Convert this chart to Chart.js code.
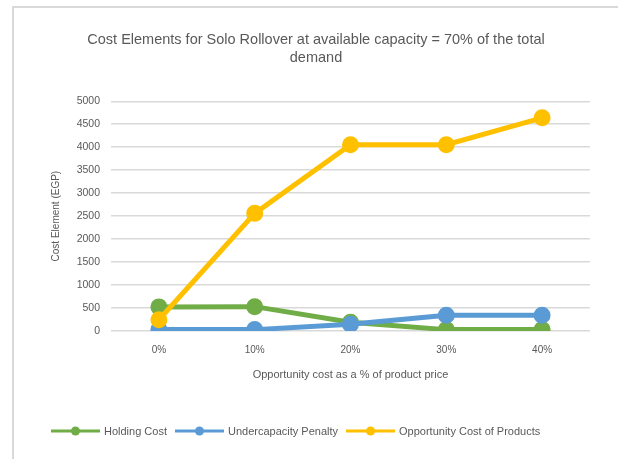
<!DOCTYPE html>
<html lang="en">
<head>
  <meta charset="UTF-8">
  <title>Cost Elements for Solo Rollover</title>
  <script src="https://cdn.jsdelivr.net/npm/chart.js"></script>
  <style>
    body { margin: 0; background: #fff; }
    .frame {
      position: absolute; left: 12px; top: 6px; width: 620px; height: 470px;
      border: 2px solid #d9d9d9; box-sizing: border-box;
    }
    .wrap { position: absolute; left: 0; top: 0; width: 618px; height: 459px; }
  </style>
</head>
<body>
  <div class="frame"></div>
  <div class="wrap">
    <canvas id="costChart" width="618" height="459"></canvas>
  </div>

  <script>
    // x categories: opportunity cost as % of product price
    const categories = ['0%', '10%', '20%', '30%', '40%'];

    // cost elements in EGP
    const holdingCost = [525, 530, 190, 30, 30];
    const undercapacityPenalty = [30, 30, 145, 345, 345];
    const opportunityCost = [245, 2560, 4055, 4055, 4640];

    const seriesNames = ['Holding Cost', 'Undercapacity Penalty', 'Opportunity Cost of Products'];
    const seriesColors = ['#70ad47', '#5b9bd5', '#ffc000'];

    const textColor = '#595959';
    const fontFamily = '"Liberation Sans", Arial, sans-serif';

    // later series sit on top of earlier ones
    function makeSeries(i, values) {
      return {
        label: seriesNames[i],
        data: values,
        order: seriesNames.length - i,
        borderColor: seriesColors[i],
        backgroundColor: seriesColors[i],
        borderWidth: 5,
        pointRadius: 6,
        pointHoverRadius: 6,
        tension: 0
      };
    }

    // legend at the bottom: line with a dot, then the name
    const lineLegend = {
      id: 'lineLegend',
      afterDraw(chart) {
        const ctx = chart.ctx;
        const y = 431;
        let x = 51;
        ctx.save();
        ctx.font = '11px ' + fontFamily;
        ctx.textBaseline = 'middle';
        ctx.textAlign = 'left';
        chart.data.datasets.forEach(ds => {
          ctx.strokeStyle = ds.borderColor;
          ctx.lineWidth = 3;
          ctx.beginPath();
          ctx.moveTo(x, y);
          ctx.lineTo(x + 49, y);
          ctx.stroke();
          ctx.fillStyle = ds.borderColor;
          ctx.beginPath();
          ctx.arc(x + 24.5, y, 4.5, 0, Math.PI * 2);
          ctx.fill();
          ctx.fillStyle = textColor;
          ctx.fillText(ds.label, x + 53, y + 1);
          x += 53 + ctx.measureText(ds.label).width + 8;
        });
        ctx.restore();
      }
    };

    const ctx = document.getElementById('costChart').getContext('2d');
    new Chart(ctx, {
      type: 'line',
      data: {
        labels: categories,
        datasets: [
          makeSeries(0, holdingCost),
          makeSeries(1, undercapacityPenalty),
          makeSeries(2, opportunityCost)
        ]
      },
      options: {
        responsive: false,
        animation: false,
        layout: { padding: { left: 14, right: 0, top: 0, bottom: 0 } },
        plugins: {
          legend: { display: false },
          tooltip: { enabled: false },
          title: {
            display: true,
            text: ['Cost Elements for Solo Rollover at available capacity = 70% of the total', 'demand'],
            color: textColor,
            font: { family: fontFamily, size: 14.5, weight: 'normal', lineHeight: 1.25 },
            padding: { top: 31, bottom: 34 }
          }
        },
        scales: {
          x: {
            offset: true,
            grid: { display: false, drawTicks: false },
            border: { display: false },
            ticks: { color: textColor, font: { family: fontFamily, size: 10 }, padding: 13 },
            title: {
              display: true,
              text: 'Opportunity cost as a % of product price',
              color: textColor,
              font: { family: fontFamily, size: 11 },
              padding: { top: 0, bottom: 77 }
            },
            afterFit(scale) { scale.height = 128; }
          },
          y: {
            min: 0,
            max: 5000,
            grid: { color: '#d9d9d9', lineWidth: 1.5, drawTicks: false },
            border: { display: false },
            ticks: {
              stepSize: 500,
              color: textColor,
              font: { family: fontFamily, size: 10.5 },
              padding: 11,
              callback: v => v
            },
            title: {
              display: true,
              text: 'Cost Element (EGP)',
              color: textColor,
              font: { family: fontFamily, size: 10 },
              padding: { top: 36, bottom: 0 }
            },
            afterFit(scale) { scale.width = 97; }
          },
          // empty margin to the right of the plot
          yRight: {
            position: 'right',
            grid: { display: false, drawTicks: false },
            border: { display: false },
            ticks: { display: false },
            afterFit(scale) { scale.width = 28; }
          }
        }
      },
      plugins: [lineLegend]
    });
  </script>
</body>
</html>
